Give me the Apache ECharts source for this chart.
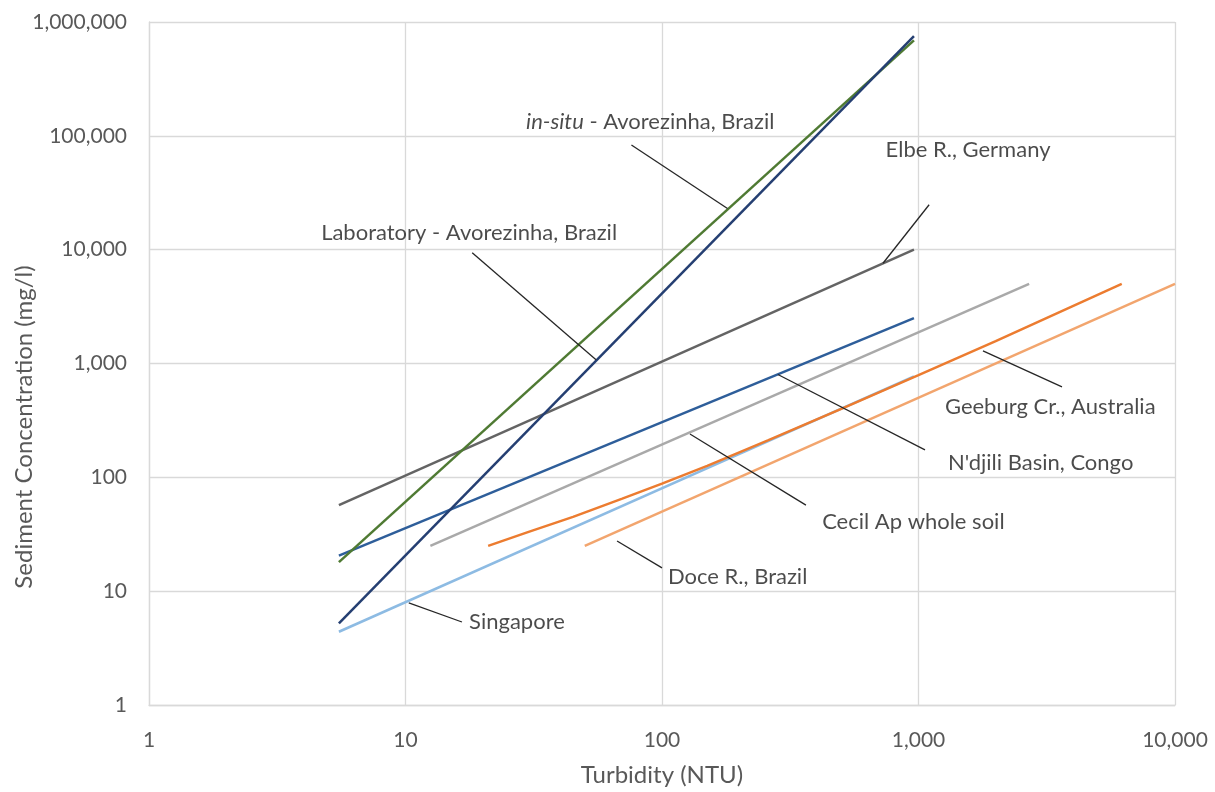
<!DOCTYPE html>
<html>
<head>
<meta charset="utf-8">
<script src="https://cdn.jsdelivr.net/npm/echarts@6/dist/echarts.min.js"></script>
<style>
  html, body { margin: 0; padding: 0; background: #fff; }
  #chart { width: 1215px; height: 792px; }
</style>
</head>
<body>
<div id="chart"></div>
<script>
// Turbidity (NTU) vs sediment concentration (mg/l) rating curves
const xTicks = [1, 10, 100, 1000, 10000];
const yTicks = [1, 10, 100, 1000, 10000, 100000, 1000000];

const singapore   = [[5.5, 4.4], [960, 770]];
const inSitu      = [[5.5, 18], [960, 690000]];
const laboratory  = [[5.5, 5.2], [960, 750000]];
const elbe        = [[5.5, 57], [960, 10000]];
const ndjili      = [[5.5, 20.5], [960, 2500]];
const cecil       = [[12.5, 25], [2700, 5000]];
const geeburg     = [[21, 25], [30, 33], [45, 45], [70, 65], [100, 88], [150, 126], [260, 212], [500, 400], [1000, 790], [2000, 1570], [6200, 5000]];
const doce        = [[50, 25], [10000, 5000]];

// callout texts, their anchor points and leader lines (data coordinates)
const calloutTexts = [
  '{i|in-situ} - Avorezinha, Brazil',
  'Elbe R., Germany',
  'Laboratory - Avorezinha, Brazil',
  'Geeburg Cr., Australia',
  "N'djili Basin, Congo",
  'Cecil Ap whole soil',
  'Doce R., Brazil',
  'Singapore'
];
const calloutAnchors = [
  [90, 132000], [1560, 75000], [17.7, 14000], [1268, 415],
  [1303, 134], [421, 40.6], [105.5, 13.3], [17.7, 5.36]
];
const calloutAlign = ['center', 'center', 'center', 'left', 'left', 'left', 'left', 'left'];
const leaders = [
  [[76, 83000], [180, 23000]],
  [[1100, 24800], [727, 7600]],
  [[18.2, 9400], [55.3, 1080]],
  [[1784, 1290], [3626, 623]],
  [[283, 800], [1060, 174]],
  [[128.5, 240], [364, 57]],
  [[66.8, 27.6], [100, 16]],
  [[10.3, 7.9], [16.6, 5.36]]
];

const FONT = 'Lato';

function fmt(v) {
  return String(Math.round(v)).replace(/\B(?=(\d{3})+(?!\d))/g, ',');
}

const curves = [
  { name: 'Singapore', data: singapore, color: '#8DBBE3' },
  { name: 'Elbe R., Germany', data: elbe, color: '#646464' },
  { name: "N'djili Basin, Congo", data: ndjili, color: '#2E5E9A' },
  { name: 'Cecil Ap whole soil', data: cecil, color: '#A9A9A9' },
  { name: 'Doce R., Brazil', data: doce, color: '#F2A56E' },
  { name: 'Geeburg Cr., Australia', data: geeburg, color: '#EC7C30' },
  { name: 'in-situ - Avorezinha, Brazil', data: inSitu, color: '#4F7A33' },
  { name: 'Laboratory - Avorezinha, Brazil', data: laboratory, color: '#253F72' }
];

const series = curves.map(c => ({
  type: 'line',
  name: c.name,
  data: c.data,
  showSymbol: false,
  smooth: false,
  lineStyle: { color: c.color, width: 2.5 },
  z: 3,
  silent: true
}));

leaders.forEach(seg => {
  series.push({
    type: 'line',
    data: seg,
    showSymbol: false,
    lineStyle: { color: '#262626', width: 1.3 },
    z: 4,
    silent: true
  });
});

series.push({
  type: 'scatter',
  symbolSize: 0,
  z: 5,
  silent: true,
  data: calloutAnchors.map((p, i) => ({
    value: p,
    label: {
      show: true,
      position: 'inside',
      align: calloutAlign[i],
      verticalAlign: 'middle',
      formatter: calloutTexts[i],
      color: '#1E1E1E',
      fontFamily: FONT,
      fontSize: 22,
      rich: {
        i: { fontStyle: 'italic', color: '#1E1E1E', fontFamily: FONT, fontSize: 22 }
      }
    }
  }))
});

const chart = echarts.init(document.getElementById('chart'), null, { renderer: 'canvas' });
chart.setOption({
  animation: false,
  backgroundColor: '#ffffff',
  grid: { left: 149, right: 40, top: 22, bottom: 87, containLabel: false },
  xAxis: {
    type: 'log',
    logBase: 10,
    min: xTicks[0],
    max: xTicks[xTicks.length - 1],
    splitNumber: xTicks.length - 1,
    name: 'Turbidity (NTU)',
    nameLocation: 'middle',
    nameGap: 58,
    nameTextStyle: { color: '#595959', fontFamily: FONT, fontSize: 24 },
    axisLine: { show: true, lineStyle: { color: '#D9D9D9', width: 1.3 } },
    axisTick: { show: false },
    axisLabel: { color: '#595959', fontFamily: FONT, fontSize: 21, margin: 25, formatter: fmt },
    splitLine: { show: true, lineStyle: { color: '#D9D9D9', width: 1.3 } },
    minorTick: { show: false },
    minorSplitLine: { show: false }
  },
  yAxis: {
    type: 'log',
    logBase: 10,
    min: yTicks[0],
    max: yTicks[yTicks.length - 1],
    splitNumber: yTicks.length - 1,
    axisLine: { show: true, lineStyle: { color: '#D9D9D9', width: 1.3 } },
    axisTick: { show: false },
    axisLabel: { color: '#595959', fontFamily: FONT, fontSize: 21, margin: 22, formatter: fmt },
    splitLine: { show: true, lineStyle: { color: '#D9D9D9', width: 1.3 } }
  },
  graphic: [{
    type: 'text',
    x: 24,
    y: 427,
    rotation: Math.PI / 2,
    style: {
      text: 'Sediment Concentration (mg/l)',
      fill: '#595959',
      font: '24px ' + FONT,
      align: 'center',
      verticalAlign: 'middle'
    }
  }],
  series: series
});
</script>
</body>
</html>
